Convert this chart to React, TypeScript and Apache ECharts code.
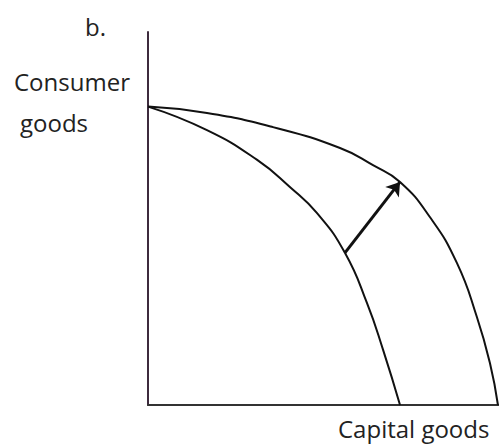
import React, { useEffect, useRef } from "react";
import * as echarts from "echarts";

const innerCurve: [number, number][] = [
  [0, 80], [16.8, 73.7], [31.1, 65.7], [40.5, 58.4], [48.1, 51.5],
  [56.1, 40.8], [62.4, 27.3], [67.0, 14.7], [71.8, 0],
];
const outerCurve: [number, number][] = [
  [0, 80], [16.8, 78.3], [35.6, 74.5], [54.7, 68.9], [64.1, 64.3],
  [71.8, 59.8], [80.3, 50.4], [88.0, 38.1], [93.7, 23.6], [97.4, 11.3], [99.7, 0],
];
const arrowFrom: [number, number] = [56.1, 40.8];
const arrowTo: [number, number] = [71.8, 59.8];
const labels = { panel: "b.", yLine1: "Consumer", yLine2: "goods", x: "Capital goods" };

export default function App() {
  const ref = useRef<HTMLDivElement>(null);
  useEffect(() => {
    if (!ref.current) return;
    const chart = echarts.init(ref.current, null, { renderer: "svg" });
    const font = "'Open Sans', sans-serif";
    const textStyle = (t: string, x: number, y: number) => ({
      type: "text",
      x,
      y,
      style: { text: t, font: `24px ${font}`, fill: "#222", textVerticalAlign: "bottom" },
    });
    chart.setOption({
      animation: false,
      backgroundColor: "#ffffff",
      grid: { left: 148, right: 0, top: 32, bottom: 39 },
      xAxis: {
        type: "value", min: 0, max: 100,
        axisLine: { show: true, lineStyle: { color: "#333", width: 2 } },
        axisTick: { show: false }, axisLabel: { show: false }, splitLine: { show: false },
      },
      yAxis: {
        type: "value", min: 0, max: 100,
        axisLine: { show: true, lineStyle: { color: "#3d2b3d", width: 2 } },
        axisTick: { show: false }, axisLabel: { show: false }, splitLine: { show: false },
      },
      series: [
        {
          type: "line", data: innerCurve, smooth: true, showSymbol: false,
          lineStyle: { color: "#111", width: 2 },
          markLine: {
            silent: true, symbol: ["none", "arrow"], symbolSize: 13,
            label: { show: false },
            lineStyle: { color: "#111", width: 3, type: "solid" },
            data: [[{ coord: arrowFrom }, { coord: arrowTo }]],
          },
        },
        {
          type: "line", data: outerCurve, smooth: true, showSymbol: false,
          lineStyle: { color: "#111", width: 2 },
        },
      ],
      graphic: [
        textStyle(labels.panel, 85, 38),
        textStyle(labels.yLine1, 14, 93),
        textStyle(labels.yLine2, 20, 134),
        textStyle(labels.x, 338, 440),
      ],
    });
    return () => chart.dispose();
  }, []);
  return (
    <div
      ref={ref}
      style={{ position: "absolute", left: 0, top: 0, width: 499, height: 444 }}
    />
  );
}
